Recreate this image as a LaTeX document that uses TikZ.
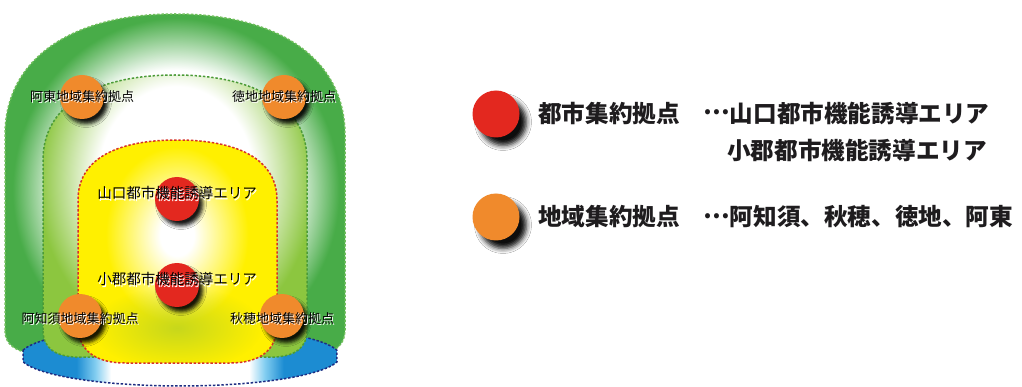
\documentclass[tikz,border=0pt]{standalone}
\usepackage{fontspec}
\newfontfamily\jpfont{Noto Sans CJK JP}
\usetikzlibrary{shadows.blur,fadings}
\definecolor{ggreen}{RGB}{72,172,72}
\definecolor{mgreen}{RGB}{140,198,63}
\definecolor{yyel}{RGB}{255,240,0}
\definecolor{ygtint}{RGB}{175,205,40}
\definecolor{bblue}{RGB}{28,140,210}
\definecolor{bcyan}{RGB}{130,205,240}
\definecolor{cred}{RGB}{227,40,31}
\definecolor{corange}{RGB}{240,138,44}
\definecolor{outerline}{RGB}{110,190,90}
\definecolor{midline}{RGB}{75,155,55}
\definecolor{yelline}{RGB}{215,50,40}
\definecolor{blueline}{RGB}{30,45,130}
\definecolor{legtxt}{RGB}{30,28,30}
\pgfdeclareradialshading{gglow}{\pgfpoint{0bp}{0bp}}{color(0bp)=(white); color(15bp)=(white); color(21.5bp)=(ggreen); color(50bp)=(ggreen)}
\pgfdeclareradialshading{mglow}{\pgfpoint{0bp}{0bp}}{color(0bp)=(white); color(13bp)=(white); color(23bp)=(mgreen); color(50bp)=(mgreen)}
\pgfdeclareradialshading{yglow}{\pgfpoint{0bp}{0bp}}{color(0bp)=(white); color(4bp)=(white); color(17bp)=(yyel); color(50bp)=(yyel)}
\pgfdeclarehorizontalshading{bglow}{100bp}{color(0bp)=(bblue); color(33.5bp)=(bblue); color(36.5bp)=(bcyan); color(39bp)=(white); color(61bp)=(white); color(63.5bp)=(bcyan); color(66.5bp)=(bblue); color(100bp)=(bblue)}
\tikzfading[name=tintfade, inner color=transparent!30, outer color=transparent!100]
\newcommand\wsh[1]{\makebox[0pt][l]{\hspace*{1.2pt}\raisebox{-1.2pt}{\textcolor{white}{#1}}}#1}
\newcommand\middots{\raisebox{0.3em}{…}}
\newcommand\outerP{(5,330) -- (5,135) .. controls (5,60) and (70,14) .. (175,14) .. controls (280,14) and (345,60) .. (345,135) -- (345,330) .. controls (345,345) and (335,352) .. (320,355) -- (40,355) .. controls (15,352) and (5,345) .. (5,330) -- cycle}
\newcommand\midP{(43,330) -- (43,160) .. controls (43,105) and (95,75) .. (175,75) .. controls (255,75) and (307,105) .. (307,160) -- (307,330) .. controls (307,348) and (295,356) .. (275,357) -- (75,357) .. controls (55,356) and (43,348) .. (43,330) -- cycle}
\newcommand\yelP{(78,325) -- (78,200) .. controls (78,160) and (115,140) .. (177,140) .. controls (239,140) and (277,160) .. (277,200) -- (277,325) .. controls (277,350) and (260,363) .. (230,363) -- (125,363) .. controls (95,363) and (78,350) .. (78,325) -- cycle}
\newcommand\blueP{(23,350.2) arc[start angle=191.2, end angle=348.8, x radius=160, y radius=30] -- (337,361.8) arc[start angle=11.2, end angle=168.8, x radius=160, y radius=30] -- cycle}
\begin{document}
\begin{tikzpicture}[x=1pt,y=-1pt,
  bord/.style={line width=1.5pt, dash pattern=on 2.4pt off 1.8pt},
  dot/.style={circle, inner sep=0pt, minimum size=44pt,
    blur shadow={shadow xshift=4pt, shadow yshift=-5pt, shadow blur radius=3.5pt, shadow opacity=90}},
  legdot/.style={circle, inner sep=0pt, minimum size=47pt,
    blur shadow={shadow xshift=7pt, shadow yshift=-8pt, shadow blur radius=5pt, shadow opacity=95}},
  lab/.style={font=\jpfont\fontsize{13}{15}\selectfont, inner sep=0pt, text=black},
  biglab/.style={font=\jpfont\fontsize{14.5}{17}\selectfont, inner sep=0pt, text=black},
  legtext/.style={font=\jpfont\bfseries\fontsize{23.6}{28}\selectfont, inner sep=0pt, text=legtxt, anchor=west}]
\useasboundingbox (0,0) rectangle (1022,387);
\fill[white] (0,0) rectangle (1022,387);
% outer green zone
\begin{scope}
  \clip \outerP;
  \shade[shading=gglow] (-14,-10) rectangle (366,390);
\end{scope}
\draw[bord, outerline] \outerP;
% blue zone
\shade[shading=bglow] \blueP;
\draw[bord, blueline] \blueP;
% middle green zone
\begin{scope}
  \clip \midP;
  \shade[shading=mglow] (26,0) rectangle (326,360);
\end{scope}
\draw[bord, midline] \midP;
% yellow zone
\begin{scope}
  \clip \yelP;
  \shade[shading=yglow] (72,105) rectangle (282,365);
  \fill[ygtint, path fading=tintfade] (177,328) ellipse [x radius=85, y radius=42];
\end{scope}
\draw[bord, yelline] \yelP;
% hubs
\node[dot, fill=corange] (ato) at (82,97) {};
\node[dot, fill=corange] (toku) at (284,97) {};
\node[dot, fill=corange] (aji) at (80,316) {};
\node[dot, fill=corange] (aio) at (282,316) {};
\node[dot, fill=cred] (yama) at (177,199) {};
\node[dot, fill=cred] (ogo) at (177,285) {};
% labels
\node[lab] (lato) at (82,97) {\wsh{阿東地域集約拠点}};
\node[lab] (ltoku) at (284,97) {\wsh{徳地地域集約拠点}};
\node[lab] (laji) at (80,319) {\wsh{阿知須地域集約拠点}};
\node[lab] (laio) at (282,319) {\wsh{秋穂地域集約拠点}};
\node[biglab] (lyama) at (177,194) {\wsh{山口都市機能誘導エリア}};
\node[biglab] (logo) at (177,280) {\wsh{小郡都市機能誘導エリア}};
% legend
\node[legdot, fill=cred] (kred) at (496,114) {};
\node[legdot, fill=corange] (korange) at (496,217) {};
\node[legtext] (t1) at (538,113) {都市集約拠点　\middots 山口都市機能誘導エリア};
\node[legtext] (t2) at (727,150) {小郡都市機能誘導エリア};
\node[legtext] (t3) at (538,217) {地域集約拠点　\middots 阿知須、秋穂、徳地、阿東};
\end{tikzpicture}
\end{document}
